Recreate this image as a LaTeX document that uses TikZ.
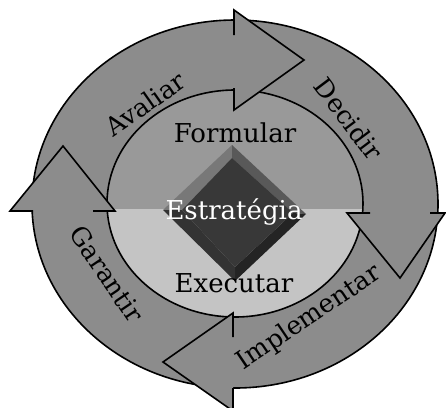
\documentclass[tikz,border=0pt]{standalone}
\usepackage{fontspec}
\setmainfont{DejaVu Serif}
\begin{document}
\begin{tikzpicture}[x=1pt,y=-1pt,line width=1.6pt,line join=miter]
\definecolor{ringgray}{gray}{0.55}
\definecolor{uppergray}{gray}{0.60}
\definecolor{lowergray}{gray}{0.77}
\definecolor{facetl}{gray}{0.47}
\definecolor{facetr}{gray}{0.35}
\definecolor{facebr}{gray}{0.14}
\definecolor{facebl}{gray}{0.20}
\definecolor{facec}{gray}{0.22}
\tikzset{
  ringlabel/.style={font=\fontsize{25.5}{28}\selectfont, inner sep=0pt},
  innerlabel/.style={font=\fontsize{26}{29}\selectfont, inner sep=0pt}
}
\useasboundingbox (0,0) rectangle (446,407);
\fill[white] (0,0) rectangle (446,407);
% ring
\fill[ringgray, even odd rule] (235,204) ellipse [x radius=203, y radius=184]
  (235,203.5) ellipse [x radius=128, y radius=113.5];
% inner halves
\begin{scope}
  \clip (235,203.5) ellipse [x radius=128, y radius=113.5];
  \fill[uppergray] (100,80) rectangle (370,209);
  \fill[lowergray] (100,209) rectangle (370,330);
\end{scope}
\draw (235,204) ellipse [x radius=203, y radius=184];
\draw (235,203.5) ellipse [x radius=128, y radius=113.5];
% arrowheads
% top (pointing right)
\fill[ringgray] (234,10) -- (304,60) -- (234,110) -- cycle;
\draw (234,35) -- (234,10) -- (304,60) -- (234,110) -- (234,88);
% right (pointing down)
\fill[ringgray] (347,213) -- (400,278) -- (445,213) -- cycle;
\draw (370,213) -- (347,213) -- (400,278) -- (445,213) -- (430,213);
% bottom (pointing left)
\fill[ringgray] (233,313) -- (163,362) -- (233,411) -- cycle;
\draw (233,337) -- (233,313) -- (163,362) -- (233,411) -- (233,388);
% left (pointing up)
\fill[ringgray] (10,211) -- (63,146) -- (115,211) -- cycle;
\draw (33,211) -- (10,211) -- (63,146) -- (115,211) -- (93,211);
% diamond
\coordinate (dT) at (232,145);
\coordinate (dL) at (163,210);
\coordinate (dR) at (306,214);
\coordinate (dB) at (235,281);
\coordinate (iT) at (232,158);
\coordinate (iL) at (182,210);
\coordinate (iR) at (293,213);
\coordinate (iB) at (235,267);
\fill[facetl] (dT) -- (dL) -- (iL) -- (iT) -- cycle;
\fill[facetr] (dT) -- (dR) -- (iR) -- (iT) -- cycle;
\fill[facebr] (dR) -- (dB) -- (iB) -- (iR) -- cycle;
\fill[facebl] (dL) -- (dB) -- (iB) -- (iL) -- cycle;
\fill[facec] (iT) -- (iL) -- (iB) -- (iR) -- cycle;
% texts
\node[innerlabel] (formular) at (235,133) {Formular};
\node[innerlabel, text=white] (estrategia) at (234,212) {Estratégia};
\node[innerlabel] (executar) at (234,283) {Executar};
\node[ringlabel, rotate=35] (avaliar) at (145,104) {Avaliar};
\node[ringlabel, rotate=-53] (decidir) at (349,119) {Decidir};
\node[ringlabel, rotate=34] (implementar) at (309,318) {Implementar};
\node[ringlabel, rotate=-56] (garantir) at (107,274) {Garantir};
\end{tikzpicture}
\end{document}
